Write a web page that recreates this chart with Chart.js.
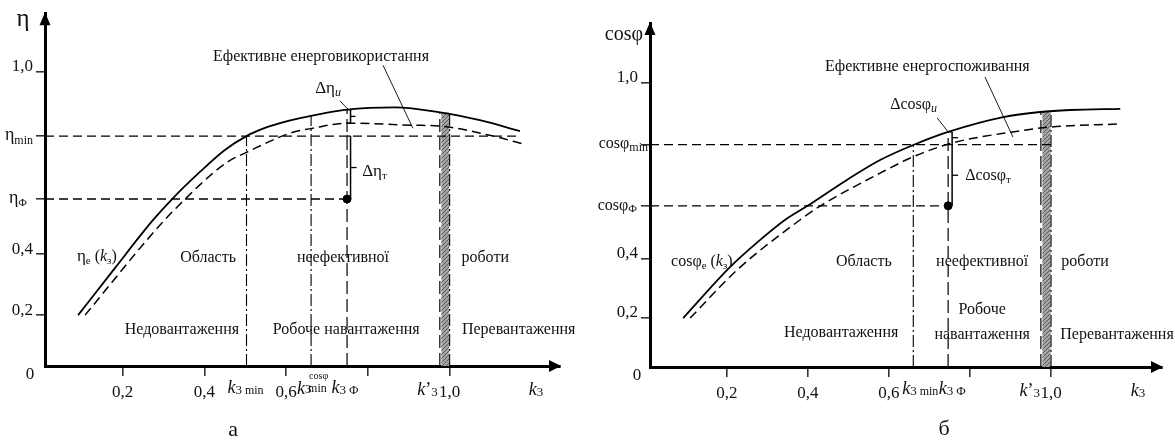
<!DOCTYPE html>
<html lang="uk">
<head>
<meta charset="UTF-8">
<title>Області ефективної роботи</title>
<script src="https://cdn.jsdelivr.net/npm/chart.js@4.4.1/dist/chart.umd.min.js"></script>
<style>
  body { margin: 0; background: #fff; }
  .panel { position: absolute; top: 0; height: 441px; }
  #panelA { left: 0; width: 580px; }
  #panelB { left: 580px; width: 595px; }
</style>
</head>
<body>
<div class="panel" id="panelA"><canvas id="chartA"></canvas></div>
<div class="panel" id="panelB"><canvas id="chartB"></canvas></div>
<script>
// ---- values: k3 on x, eta / cos phi on y ----
var xTicks = [0.2, 0.4, 0.6, 0.8, 1.0];
var xTickLabels = ['0,2', '0,4', '0,6', '', '1,0'];
var yTicks = [0.173, 0.38, 0.568, 0.782, 1.0];
var yTickLabels = ['0,2', '0,4', '', '', '1,0'];

// а) efficiency: rated curve (solid) and real curve (dashed)
var etaRated = [[0.091, 0.173], [0.181, 0.333], [0.274, 0.496], [0.321, 0.568], [0.389, 0.660], [0.450, 0.735],
                [0.503, 0.782], [0.545, 0.808], [0.585, 0.826], [0.634, 0.843], [0.749, 0.872], [0.866, 0.880],
                [0.977, 0.863], [1.074, 0.836], [1.172, 0.799]];
var etaReal = [[0.108, 0.173], [0.291, 0.479], [0.353, 0.568], [0.421, 0.656], [0.460, 0.697], [0.499, 0.724],
               [0.610, 0.792], [0.666, 0.809], [0.749, 0.826], [0.910, 0.819], [0.977, 0.816], [1.106, 0.782], [1.180, 0.755]];
var etaMin = 0.782, etaPhi = 0.568;
var kMinA = 0.503, kMinCosA = 0.661, kPhiA = 0.749, kPrimeA = 0.976, kRated = 1.0;
var etaPhiSolid = 0.872, etaPhiDashed = 0.826, etaBandTop = 0.862, etaMinCosTop = 0.85, etaMinEnd = 1.172;

// б) power factor
var cosRated = [[0.092, 0.172], [0.208, 0.352], [0.282, 0.447], [0.343, 0.517], [0.398, 0.566], [0.496, 0.658],
                [0.578, 0.728], [0.660, 0.781], [0.746, 0.827], [0.882, 0.879], [0.973, 0.897], [1.047, 0.904], [1.171, 0.908]];
var cosReal = [[0.109, 0.172], [0.225, 0.341], [0.380, 0.517], [0.430, 0.566], [0.578, 0.682], [0.659, 0.739],
               [0.756, 0.788], [0.906, 0.827], [0.998, 0.844], [1.171, 0.855]];
var cosMin = 0.782, cosPhi = 0.567;
var kMinB = 0.66, kPhiB = 0.746, kPrimeB = 0.975;
var cosPhiSolid = 0.827, cosPhiDashed = 0.786, cosBandTop = 0.897, cosMinEnd = 1.0;

var FONT = '"Liberation Serif", "Times New Roman", serif';
Chart.defaults.font.family = FONT;
Chart.defaults.color = '#111';

function pts(arr) {
    return arr.map(function (p) { return { x: p[0], y: p[1] }; });
}

function curve(arr, dash) {
    return { data: pts(arr), showLine: true, borderColor: '#000', borderWidth: dash ? 1.5 : 1.8,
             borderDash: dash || [], pointRadius: 0, cubicInterpolationMode: 'monotone', fill: false };
}

function straight(arr, dash, w) {
    return { data: pts(arr), showLine: true, borderColor: '#000', borderWidth: w || 1.3,
             borderDash: dash, pointRadius: 0, tension: 0, fill: false };
}

var DASH = [9, 5], LONG = [13, 5], DASHDOT = [12, 3, 2, 3];

function fontOf(p) { return (p[2] ? 'italic ' : '') + p[1] + 'px ' + FONT; }

function rich(ctx, x, y, parts, align) {
    var w = 0;
    parts.forEach(function (p) { ctx.font = fontOf(p); w += ctx.measureText(p[0]).width; });
    var cx = align === 'center' ? x - w / 2 : (align === 'right' ? x - w : x);
    ctx.textAlign = 'left';
    ctx.textBaseline = 'alphabetic';
    parts.forEach(function (p) {
        ctx.font = fontOf(p);
        ctx.fillText(p[0], cx, y + (p[3] || 0));
        cx += ctx.measureText(p[0]).width;
    });
}

function seg(ctx, x1, y1, x2, y2, w) {
    ctx.lineWidth = w || 1.3;
    ctx.beginPath(); ctx.moveTo(x1, y1); ctx.lineTo(x2, y2); ctx.stroke();
}

function hatchPattern(ctx) {
    var c = document.createElement('canvas');
    c.width = 4; c.height = 4;
    var g = c.getContext('2d');
    g.fillStyle = '#a4a4a4'; g.fillRect(0, 0, 4, 4);
    g.strokeStyle = '#5a5a5a'; g.lineWidth = 1;
    g.beginPath(); g.moveTo(0, 4); g.lineTo(4, 0); g.stroke();
    return ctx.createPattern(c, 'repeat');
}

function band(chart, x1, x2, top) {
    var ctx = chart.ctx, sx = chart.scales.x, sy = chart.scales.y;
    var xa = sx.getPixelForValue(x1) + 1.5, xb = sx.getPixelForValue(x2) - 0.5;
    var yt = sy.getPixelForValue(top), yb = sy.getPixelForValue(0);
    ctx.save();
    ctx.fillStyle = hatchPattern(ctx);
    ctx.fillRect(xa, yt, xb - xa, yb - yt);
    ctx.restore();
}

function arrows(chart) {
    var ctx = chart.ctx, a = chart.chartArea;
    ctx.fillStyle = '#000';
    ctx.beginPath(); ctx.moveTo(a.left, a.top - 1); ctx.lineTo(a.left - 5.5, a.top + 12); ctx.lineTo(a.left + 5.5, a.top + 12); ctx.fill();
    ctx.beginPath(); ctx.moveTo(a.right + 1, a.bottom); ctx.lineTo(a.right - 11, a.bottom - 6); ctx.lineTo(a.right - 11, a.bottom + 6); ctx.fill();
}

function drawTexts(chart, list) {
    var sx = chart.scales.x, sy = chart.scales.y;
    list.forEach(function (t) {
        rich(chart.ctx, sx.getPixelForValue(t[0]), sy.getPixelForValue(t[1]), t[3], t[2]);
    });
}

function kLabel(ctx, x, base, tail, align) {
    var parts = [['k', 18, 1], ['3', 13, 0, 1]];
    if (tail) parts.push([tail, 12, 0, 1]);
    rich(ctx, x, base, parts, align);
}

var textsA = [
    [0.421, 1.037, 'left', [['Ефективне енерговикористання', 16]]],
    [0.671, 0.928, 'left', [['Δη', 17], ['и', 12, 1, 3]]],
    [0.786, 0.646, 'left', [['Δη', 17], ['т', 11, 0, 3]]],
    [0.088, 0.357, 'left', [['η', 17], ['е', 11, 0, 3], [' (', 16], ['k', 16, 1], ['з', 11, 0, 3], [')', 16]]],
    [0.409, 0.353, 'center', [['Область', 16]]],
    [0.739, 0.353, 'center', [['неефективної', 16]]],
    [1.087, 0.353, 'center', [['роботи', 16]]],
    [0.345, 0.109, 'center', [['Недовантаження', 16]]],
    [0.747, 0.109, 'center', [['Робоче навантаження', 16]]],
    [1.030, 0.109, 'left', [['Перевантаження', 16]]],
    [0.470, -0.238, 'center', [['а', 22]]]
];

var textsB = [
    [0.442, 1.041, 'left', [['Ефективне енергоспоживання', 16]]],
    [0.603, 0.907, 'left', [['Δcosφ', 16], ['и', 12, 1, 3]]],
    [0.788, 0.658, 'left', [['Δcosφ', 16], ['т', 11, 0, 3]]],
    [0.062, 0.355, 'left', [['cosφ', 16], ['е', 11, 0, 3], [' (', 16], ['k', 16, 1], ['з', 11, 0, 3], [')', 16]]],
    [0.538, 0.355, 'center', [['Область', 16]]],
    [0.830, 0.355, 'center', [['неефективної', 16]]],
    [1.084, 0.355, 'center', [['роботи', 16]]],
    [0.482, 0.1055, 'center', [['Недовантаження', 16]]],
    [0.830, 0.186, 'center', [['Робоче', 16]]],
    [0.830, 0.0985, 'center', [['навантаження', 16]]],
    [1.163, 0.0985, 'center', [['Перевантаження', 16]]],
    [0.736, -0.239, 'center', [['б', 22]]]
];

var annotA = {
    id: 'annotA',
    beforeDatasetsDraw: function (chart) { band(chart, kPrimeA, kRated, etaBandTop); },
    afterDraw: function (chart) {
        var ctx = chart.ctx, a = chart.chartArea;
        var X = function (v) { return chart.scales.x.getPixelForValue(v); };
        var Y = function (v) { return chart.scales.y.getPixelForValue(v); };
        ctx.save();
        ctx.strokeStyle = '#000';
        arrows(chart);
        // brackets for the two losses
        var xb = X(kPhiA) + 3.5;
        seg(ctx, xb - 4, Y(etaMin), xb, Y(etaMin));
        seg(ctx, xb, Y(etaMin), xb, Y(etaPhi), 1.5);
        seg(ctx, xb, Y((etaMin + etaPhi) / 2), xb + 6, Y((etaMin + etaPhi) / 2));
        seg(ctx, xb - 4, Y(etaPhiSolid), xb, Y(etaPhiSolid));
        seg(ctx, xb, Y(etaPhiSolid), xb, Y(etaPhiDashed), 1.5);
        seg(ctx, xb - 4, Y(etaPhiDashed), xb, Y(etaPhiDashed));
        seg(ctx, xb, Y((etaPhiSolid + etaPhiDashed) / 2), xb + 5, Y((etaPhiSolid + etaPhiDashed) / 2));
        // leaders
        seg(ctx, X(0.837), Y(1.023), X(0.910), Y(0.809), 0.9);
        seg(ctx, X(0.732), Y(0.901), X(0.751), Y(0.874), 0.9);
        ctx.fillStyle = '#111';
        drawTexts(chart, textsA);
        // y axis title and special ticks
        rich(ctx, a.left - 22, a.top + 13, [['η', 25]], 'center');
        rich(ctx, a.left - 12, Y(etaMin) + 4, [['η', 18], ['min', 12, 0, 4]], 'right');
        rich(ctx, a.left - 18, Y(etaPhi) + 4, [['η', 18], ['Ф', 11, 0, 3]], 'right');
        rich(ctx, a.left - 15, a.bottom + 13, [['0', 17]], 'center');
        // x special ticks
        var base = a.bottom + 27;
        kLabel(ctx, X(kMinA) - 1, base, ' min', 'center');
        rich(ctx, X(kMinCosA) - 14, base + 1, [['k', 18, 1], ['3', 13, 0, -1]], 'left');
        ctx.font = '12px ' + FONT;
        ctx.fillText('min', X(kMinCosA) - 3, base - 1);
        ctx.font = '10px ' + FONT;
        ctx.fillText('cosφ', X(kMinCosA) - 2, base - 14);
        kLabel(ctx, X(kPhiA) - 2, base, ' Ф', 'center');
        rich(ctx, X(kPrimeA) - 2, base + 2, [['k', 18, 1], ['’', 18], ['3', 13, 0, 1]], 'right');
        kLabel(ctx, a.right - 24, base + 2, '', 'center');
        ctx.restore();
    }
};

var annotB = {
    id: 'annotB',
    beforeDatasetsDraw: function (chart) { band(chart, kPrimeB, kRated, cosBandTop); },
    afterDraw: function (chart) {
        var ctx = chart.ctx, a = chart.chartArea;
        var X = function (v) { return chart.scales.x.getPixelForValue(v); };
        var Y = function (v) { return chart.scales.y.getPixelForValue(v); };
        ctx.save();
        ctx.strokeStyle = '#000';
        arrows(chart);
        var xb = X(kPhiB) + 4;
        seg(ctx, xb - 3, Y(cosPhiSolid), xb, Y(cosPhiSolid));
        seg(ctx, xb, Y(cosPhiSolid), xb, Y(cosPhi), 1.5);
        seg(ctx, xb, Y((cosPhiSolid + cosPhiDashed) / 2), xb + 6, Y((cosPhiSolid + cosPhiDashed) / 2));
        seg(ctx, xb, Y((cosMin + cosPhi) / 2), xb + 6, Y((cosMin + cosPhi) / 2));
        seg(ctx, X(0.837), Y(1.020), X(0.906), Y(0.809), 0.9);
        seg(ctx, X(0.719), Y(0.876), X(0.746), Y(0.827), 0.9);
        ctx.fillStyle = '#111';
        drawTexts(chart, textsB);
        rich(ctx, a.left - 7, a.top + 17, [['cosφ', 20]], 'right');
        rich(ctx, a.left - 2, Y(cosMin) + 3, [['cosφ', 16], ['min', 12, 0, 3]], 'right');
        rich(ctx, a.left - 13, Y(cosPhi) + 4, [['cosφ', 16], ['Ф', 11, 0, 2]], 'right');
        rich(ctx, a.left - 13, a.bottom + 13, [['0', 17]], 'center');
        var base = a.bottom + 27;
        kLabel(ctx, X(kMinB) + 7, base, ' min', 'center');
        kLabel(ctx, X(kPhiB) + 4, base, ' Ф', 'center');
        rich(ctx, X(kPrimeB) - 1, base + 2, [['k', 18, 1], ['’', 18], ['3', 13, 0, 1]], 'right');
        kLabel(ctx, a.right - 24, base + 2, '', 'center');
        ctx.restore();
    }
};

function makeChart(id, sets, ax, plugin) {
    return new Chart(document.getElementById(id), {
        type: 'scatter',
        data: { datasets: sets },
        options: {
            responsive: true,
            maintainAspectRatio: false,
            animation: false,
            layout: { padding: { top: ax.top, right: ax.right, left: 0, bottom: 0 } },
            plugins: { legend: { display: false }, tooltip: { enabled: false } },
            scales: {
                x: {
                    type: 'linear', min: 0.01, max: ax.xMax,
                    afterBuildTicks: function (s) { s.ticks = xTicks.map(function (v) { return { value: v }; }); },
                    afterFit: function (s) { s.height = ax.bottom; },
                    ticks: { callback: function (v, i) { return xTickLabels[i]; }, padding: 6, maxRotation: 0,
                             autoSkip: false, font: { size: 17 }, color: '#111' },
                    grid: { drawOnChartArea: false, tickLength: 10, color: '#333', lineWidth: 1.6 },
                    border: { color: '#000', width: 3 }
                },
                y: {
                    type: 'linear', min: 0, max: ax.yMax,
                    afterBuildTicks: function (s) { s.ticks = yTicks.map(function (v) { return { value: v }; }); },
                    afterFit: function (s) { s.width = ax.left; },
                    ticks: { callback: function (v, i) { return yTickLabels[i]; }, padding: 3, labelOffset: -5,
                             autoSkip: false, font: { size: 17 }, color: '#111' },
                    grid: { drawOnChartArea: false, tickLength: 9, color: '#333', lineWidth: 1.6 },
                    border: { color: '#000', width: 3 }
                }
            }
        },
        plugins: [plugin]
    });
}

makeChart('chartA', [
    curve(etaRated),
    curve(etaReal, DASH),
    straight([[0.01, etaMin], [etaMinEnd, etaMin]], DASH),
    straight([[0.01, etaPhi], [kPhiA, etaPhi]], DASH),
    straight([[kMinA, 0], [kMinA, etaMin]], DASHDOT, 1.1),
    straight([[kMinCosA, 0], [kMinCosA, etaMinCosTop]], DASHDOT, 1.1),
    straight([[kPhiA, 0], [kPhiA, etaPhiSolid]], LONG, 1.2),
    straight([[kPrimeA, 0], [kPrimeA, etaBandTop]], LONG, 1.2),
    straight([[kRated, 0], [kRated, etaBandTop]], DASHDOT, 1.1),
    { data: pts([[kPhiA, etaPhi]]), showLine: false, pointRadius: 4, pointBackgroundColor: '#000', pointBorderColor: '#000' }
], { top: 13, right: 20, left: 45, bottom: 75, xMax: 1.27, yMax: 1.2 }, annotA);

makeChart('chartB', [
    curve(cosRated),
    curve(cosReal, DASH),
    straight([[0.01, cosMin], [cosMinEnd, cosMin]], DASH),
    straight([[0.01, cosPhi], [kPhiB, cosPhi]], DASH),
    straight([[kMinB, 0], [kMinB, cosMin]], DASHDOT, 1.1),
    straight([[kPhiB, 0], [kPhiB, cosPhiSolid]], LONG, 1.2),
    straight([[kPrimeB, 0], [kPrimeB, cosBandTop]], LONG, 1.2),
    straight([[kRated, 0], [kRated, cosBandTop]], DASHDOT, 1.1),
    { data: pts([[kPhiB, cosPhi]]), showLine: false, pointRadius: 4, pointBackgroundColor: '#000', pointBorderColor: '#000' }
], { top: 23, right: 13, left: 70, bottom: 74, xMax: 1.274, yMax: 1.21 }, annotB);
</script>
</body>
</html>
